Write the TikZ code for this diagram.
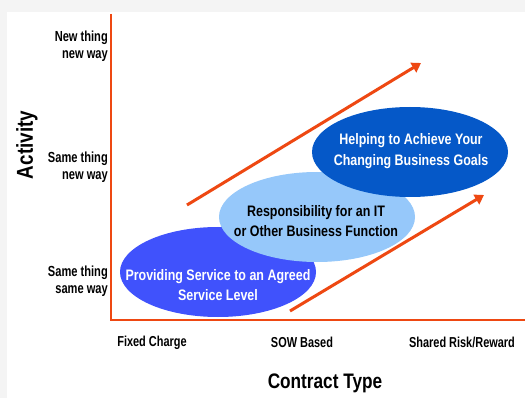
\documentclass[tikz,border=0pt]{standalone}
\usepackage{fontspec}
\setmainfont{Liberation Sans}[FakeStretch=0.82]
\newfontfamily\narrowlab{Liberation Sans}[FakeStretch=0.76]
\usetikzlibrary{arrows.meta,shapes.geometric}
\definecolor{axisred}{RGB}{238,72,18}
\definecolor{darkblue}{RGB}{5,88,200}
\definecolor{lightblue}{RGB}{150,200,250}
\definecolor{midblue}{RGB}{64,82,252}
\definecolor{bggrey}{RGB}{244,244,244}
\begin{document}
\begin{tikzpicture}[x=1pt,y=-1pt,
  axisline/.style={draw=axisred,line width=2.2pt},
  trendarrow/.style={draw=axisred,line width=3pt,-{Triangle[length=9pt,width=11pt]}},
  blob/.style={ellipse,minimum width=196pt,minimum height=90pt,draw=none},
  blobtext/.style={align=center,font=\bfseries\fontsize{15.2}{20.5}\selectfont},
  ylab/.style={align=right,anchor=east,inner sep=1.5pt,font=\narrowlab\bfseries\fontsize{14.6}{17.5}\selectfont},
  xlab/.style={font=\narrowlab\bfseries\fontsize{14.4}{15}\selectfont},
  xtitlestyle/.style={font=\bfseries\fontsize{21}{24}\selectfont},
  ytitlestyle/.style={font=\bfseries\fontsize{23}{26}\selectfont}]
\useasboundingbox (0,0) rectangle (525,398);
\fill[bggrey] (0,0) rectangle (525,398);
\fill[white] (7,12) rectangle (525,398);
% axes
\coordinate (ytop) at (111,14);
\coordinate (origin) at (111,320);
\coordinate (xend) at (525,320);
\draw[axisline] (ytop) -- (origin) -- (xend);
% ellipses
\node[blob,fill=midblue] (e1) at (218,272) {};
\node[blob,fill=lightblue] (e2) at (317,217) {};
\node[blob,fill=darkblue] (e3) at (410,152) {};
\node[blobtext,text=white] (t1) at (218,285) {Providing Service to an Agreed\\Service Level};
\node[blobtext,text=black] (t2) at (316,221) {Responsibility for an IT\\or Other Business Function};
\node[blobtext,text=white] (t3) at (411,151) {Helping to Achieve Your\\Changing Business Goals};
% arrows
\coordinate (a1s) at (187,205);
\coordinate (a1e) at (421,63);
\coordinate (a2s) at (290,311);
\coordinate (a2e) at (484,195);
\draw[trendarrow] (a1s) -- (a1e);
\draw[trendarrow] (a2s) -- (a2e);
% y labels
\node[ylab] (y3) at (109.5,46) {New thing\\new way};
\node[ylab] (y2) at (109.5,167) {Same thing\\new way};
\node[ylab] (y1) at (109.5,281) {Same thing\\same way};
\node[ytitlestyle,rotate=90] (ytitle) at (27,145) {Activity};
% x labels
\node[xlab] (x1) at (152,343) {Fixed Charge};
\node[xlab] (x2) at (302,342) {SOW Based};
\node[xlab] (x3) at (462,342) {Shared Risk/Reward};
\node[xtitlestyle] (xtitle) at (325,383) {Contract Type};
\end{tikzpicture}
\end{document}
